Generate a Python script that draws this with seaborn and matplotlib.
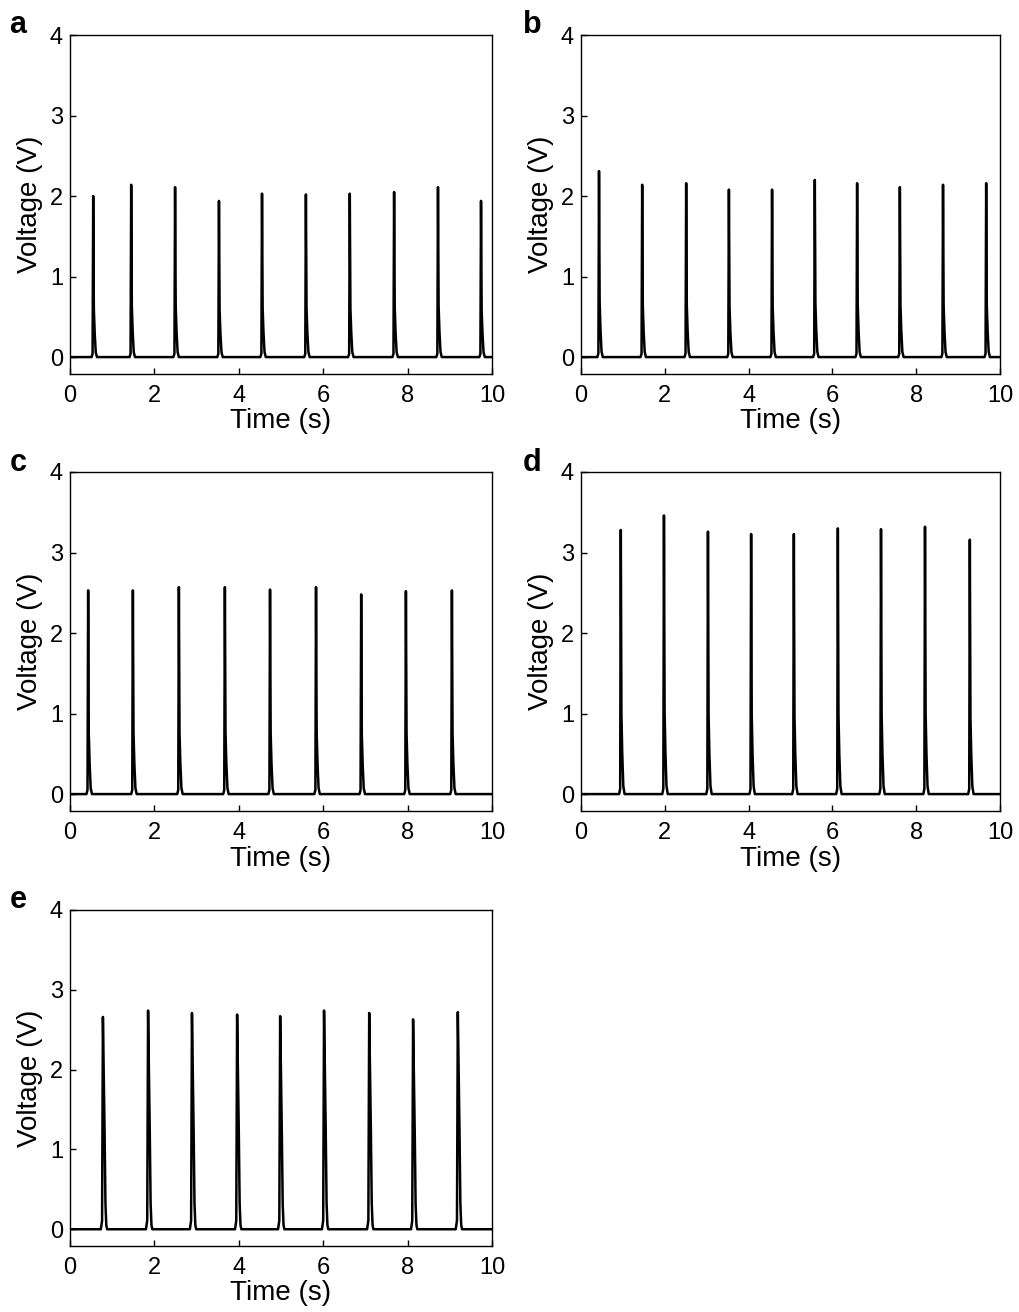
import numpy as np
import pandas as pd
import matplotlib
matplotlib.use("Agg")
import matplotlib.pyplot as plt
import seaborn as sns

# Peak times (s) and peak voltages (V) for each measurement
peak_t_a = [0.55, 1.45, 2.49, 3.53, 4.55, 5.59, 6.63, 7.68, 8.72, 9.74]
peak_v_a = [2.00, 2.14, 2.11, 1.94, 2.03, 2.02, 2.03, 2.05, 2.11, 1.94]

peak_t_b = [0.43, 1.46, 2.51, 3.53, 4.56, 5.58, 6.59, 7.61, 8.64, 9.67]
peak_v_b = [2.31, 2.14, 2.16, 2.08, 2.08, 2.20, 2.16, 2.11, 2.14, 2.16]

peak_t_c = [0.43, 1.49, 2.58, 3.67, 4.74, 5.83, 6.90, 7.96, 9.05]
peak_v_c = [2.53, 2.53, 2.57, 2.57, 2.54, 2.57, 2.48, 2.52, 2.53]

peak_t_d = [0.95, 1.98, 3.03, 4.06, 5.08, 6.13, 7.16, 8.21, 9.28]
peak_v_d = [3.28, 3.46, 3.26, 3.23, 3.23, 3.30, 3.29, 3.32, 3.16]

peak_t_e = [0.78, 1.85, 2.89, 3.96, 4.98, 6.02, 7.09, 8.13, 9.19]
peak_v_e = [2.66, 2.74, 2.71, 2.69, 2.67, 2.74, 2.71, 2.63, 2.72]

# Pulse outline: time offset from the peak (s) and fraction of the peak voltage
pulse_dt_sharp = [-0.04, -0.015, 0.0, 0.015, 0.035, 0.06, 0.09]
pulse_fr_sharp = [0.0, 0.02, 1.0, 0.30, 0.15, 0.03, 0.0]
pulse_dt_broad = [-0.05, -0.02, 0.0, 0.04, 0.06, 0.08, 0.10]
pulse_fr_broad = [0.0, 0.04, 1.0, 0.45, 0.12, 0.02, 0.0]

t_start, t_end = 0.0, 10.0
x_ticks = [0, 2, 4, 6, 8, 10]
y_ticks = [0, 1, 2, 3, 4]
panel_letters = ["a", "b", "c", "d", "e"]


def trace(peak_t, peak_v, dts, frs):
    t = [t_start]
    v = [0.0]
    for pt, pv in zip(peak_t, peak_v):
        for dt, fr in zip(dts, frs):
            t.append(pt + dt)
            v.append(pv * fr)
    t.append(t_end)
    v.append(0.0)
    return pd.DataFrame({"Time (s)": t, "Voltage (V)": v})


datasets = [
    trace(peak_t_a, peak_v_a, pulse_dt_sharp, pulse_fr_sharp),
    trace(peak_t_b, peak_v_b, pulse_dt_sharp, pulse_fr_sharp),
    trace(peak_t_c, peak_v_c, pulse_dt_sharp, pulse_fr_sharp),
    trace(peak_t_d, peak_v_d, pulse_dt_sharp, pulse_fr_sharp),
    trace(peak_t_e, peak_v_e, pulse_dt_broad, pulse_fr_broad),
]

sns.set_style("ticks", {"axes.edgecolor": "black", "text.color": "black",
                        "axes.labelcolor": "black", "xtick.color": "black",
                        "ytick.color": "black"})
plt.rcParams["font.family"] = ["Liberation Sans", "DejaVu Sans"]

W, H = 1019, 1312
fig = plt.figure(figsize=(W / 100, H / 100), dpi=100)

# axes boxes in pixels: left, top, right, bottom
boxes = [
    (70, 35, 492, 374),
    (581, 35, 1000, 374),
    (70, 472, 492, 811),
    (581, 472, 1000, 811),
    (70, 910, 492, 1246),
]
letter_pos = [(18, 25), (532, 25), (18, 463), (532, 463), (18, 900)]

for df, (l, t, r, b), letter, (lx, ly) in zip(datasets, boxes, panel_letters, letter_pos):
    ax = fig.add_axes([l / W, 1 - b / H, (r - l) / W, (b - t) / H])
    sns.lineplot(data=df, x="Time (s)", y="Voltage (V)", ax=ax,
                 color="black", linewidth=1.8, estimator=None, sort=False)
    ax.set_xlim(t_start, t_end)
    ax.set_ylim(-0.21, 4.0)
    ax.set_xticks(x_ticks)
    ax.set_yticks(y_ticks)
    ax.tick_params(direction="in", length=4, width=1, labelsize=17,
                   top=False, right=False, colors="black")
    ax.tick_params(axis="x", pad=8)
    ax.tick_params(axis="y", pad=5)
    for s in ax.spines.values():
        s.set_linewidth(1.0)
        s.set_color("black")
        s.set_visible(True)
    ax.set_xlabel("Time (s)", fontsize=20, labelpad=1, color="black")
    ax.set_ylabel("Voltage (V)", fontsize=20, labelpad=5, color="black")
    fig.text(lx / W, 1 - ly / H, letter, fontsize=22, fontweight="bold",
             ha="center", va="center", color="black")

fig.savefig("out.png", dpi=100)
